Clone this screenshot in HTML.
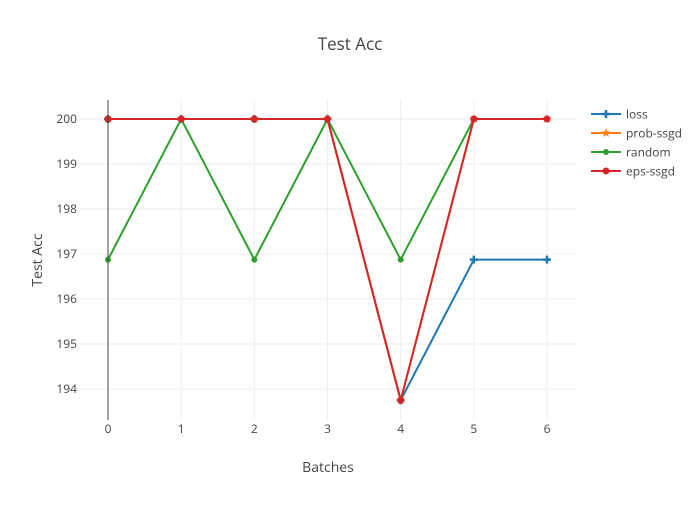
<!DOCTYPE html>
<html><head><meta charset="utf-8"><style>
body{margin:0;background:#fff;}
svg{font-family:"Open Sans","Liberation Sans",sans-serif;}
</style></head><body>
<svg id="c" width="700" height="500">
<rect width="700" height="500" fill="#fff"/>
<text x="350" y="50" text-anchor="middle" font-size="17" fill="#444">Test Acc</text>
<g id="grid"></g><g id="series"></g><g id="axes"></g>
<text x="328" y="472" text-anchor="middle" font-size="14" fill="#444">Batches</text>
<text transform="translate(42,260) rotate(-90)" text-anchor="middle" font-size="14" fill="#444">Test Acc</text>
<g id="legend"></g>
</svg>
<script>
const categories=[0,1,2,3,4,5,6];
const seriesNames=["loss","prob-ssgd","random","eps-ssgd"];
const lossVals=[200,200,200,200,193.75,196.875,196.875];
const probVals=[200,200,200,200,193.75,200,200];
const randomVals=[196.875,200,196.875,200,196.875,200,200];
const epsVals=[200,200,200,200,193.75,200,200];
const yTicks=[194,195,196,197,198,199,200];
const xTicks=[0,1,2,3,4,5,6];
const colors=["#1f77b4","#ff7f0e","#2ca02c","#d62728"];
const NS="http://www.w3.org/2000/svg";
const X=v=>108+v*(547-108)/6;
const Y=v=>119+(200-v)*(389-119)/6;
function mk(t,a,p){const e=document.createElementNS(NS,t);for(const k in a)e.setAttribute(k,a[k]);p.appendChild(e);return e;}
const grid=document.getElementById('grid'),axes=document.getElementById('axes'),ser=document.getElementById('series'),leg=document.getElementById('legend');
xTicks.forEach(t=>{const l=mk('line',{x1:X(t),x2:X(t),y1:100,y2:420,stroke:'#eee'},grid);

const tx=mk('text',{x:X(t),y:433,'text-anchor':'middle','font-size':12,fill:'#444'},axes);tx.textContent=t;
});
yTicks.forEach(t=>{const l=mk('line',{x1:80,x2:576,y1:Y(t),y2:Y(t),stroke:'#eee'},grid);

const tx=mk('text',{x:77,y:Y(t)+4,'text-anchor':'end','font-size':12,fill:'#444'},axes);tx.textContent=t;
});
const zl=mk('line',{x1:X(0),x2:X(0),y1:100,y2:420,stroke:'#444','stroke-width':1},axes);

function marker(i,x,y,p){
 if(i===0){mk('path',{d:`M${x-4},${y}H${x+4}M${x},${y-4}V${y+4}`,stroke:colors[i],'stroke-width':2.5},p);}
 else if(i===1){let d='';for(let k=0;k<10;k++){const r=k%2?2:5,a=-Math.PI/2+k*Math.PI/5;d+=(k?'L':'M')+(x+r*Math.cos(a))+','+(y+r*Math.sin(a));}mk('path',{d:d+'Z',fill:colors[i]},p);}
 else mk('circle',{cx:x,cy:y,r:i===3?3.5:3,fill:colors[i]},p);
}
[lossVals,probVals,randomVals,epsVals].forEach((vals,i)=>{
 const g=mk('g',{},ser);
 mk('polyline',{points:vals.map((v,j)=>X(categories[j])+','+Y(v)).join(' '),fill:'none',stroke:colors[i],'stroke-width':2},g);
 vals.forEach((v,j)=>marker(i,X(categories[j]),Y(v),g));
 const lg=mk('g',{},leg);
 const ly=114+i*19;
 mk('line',{x1:591,x2:621,y1:ly,y2:ly,stroke:colors[i],'stroke-width':2},lg);
 marker(i,606,ly,lg);
 const t=mk('text',{x:626,y:ly+4.5,'font-size':12,fill:'#444'},lg);t.textContent=seriesNames[i];
});
</script>
</body></html>
